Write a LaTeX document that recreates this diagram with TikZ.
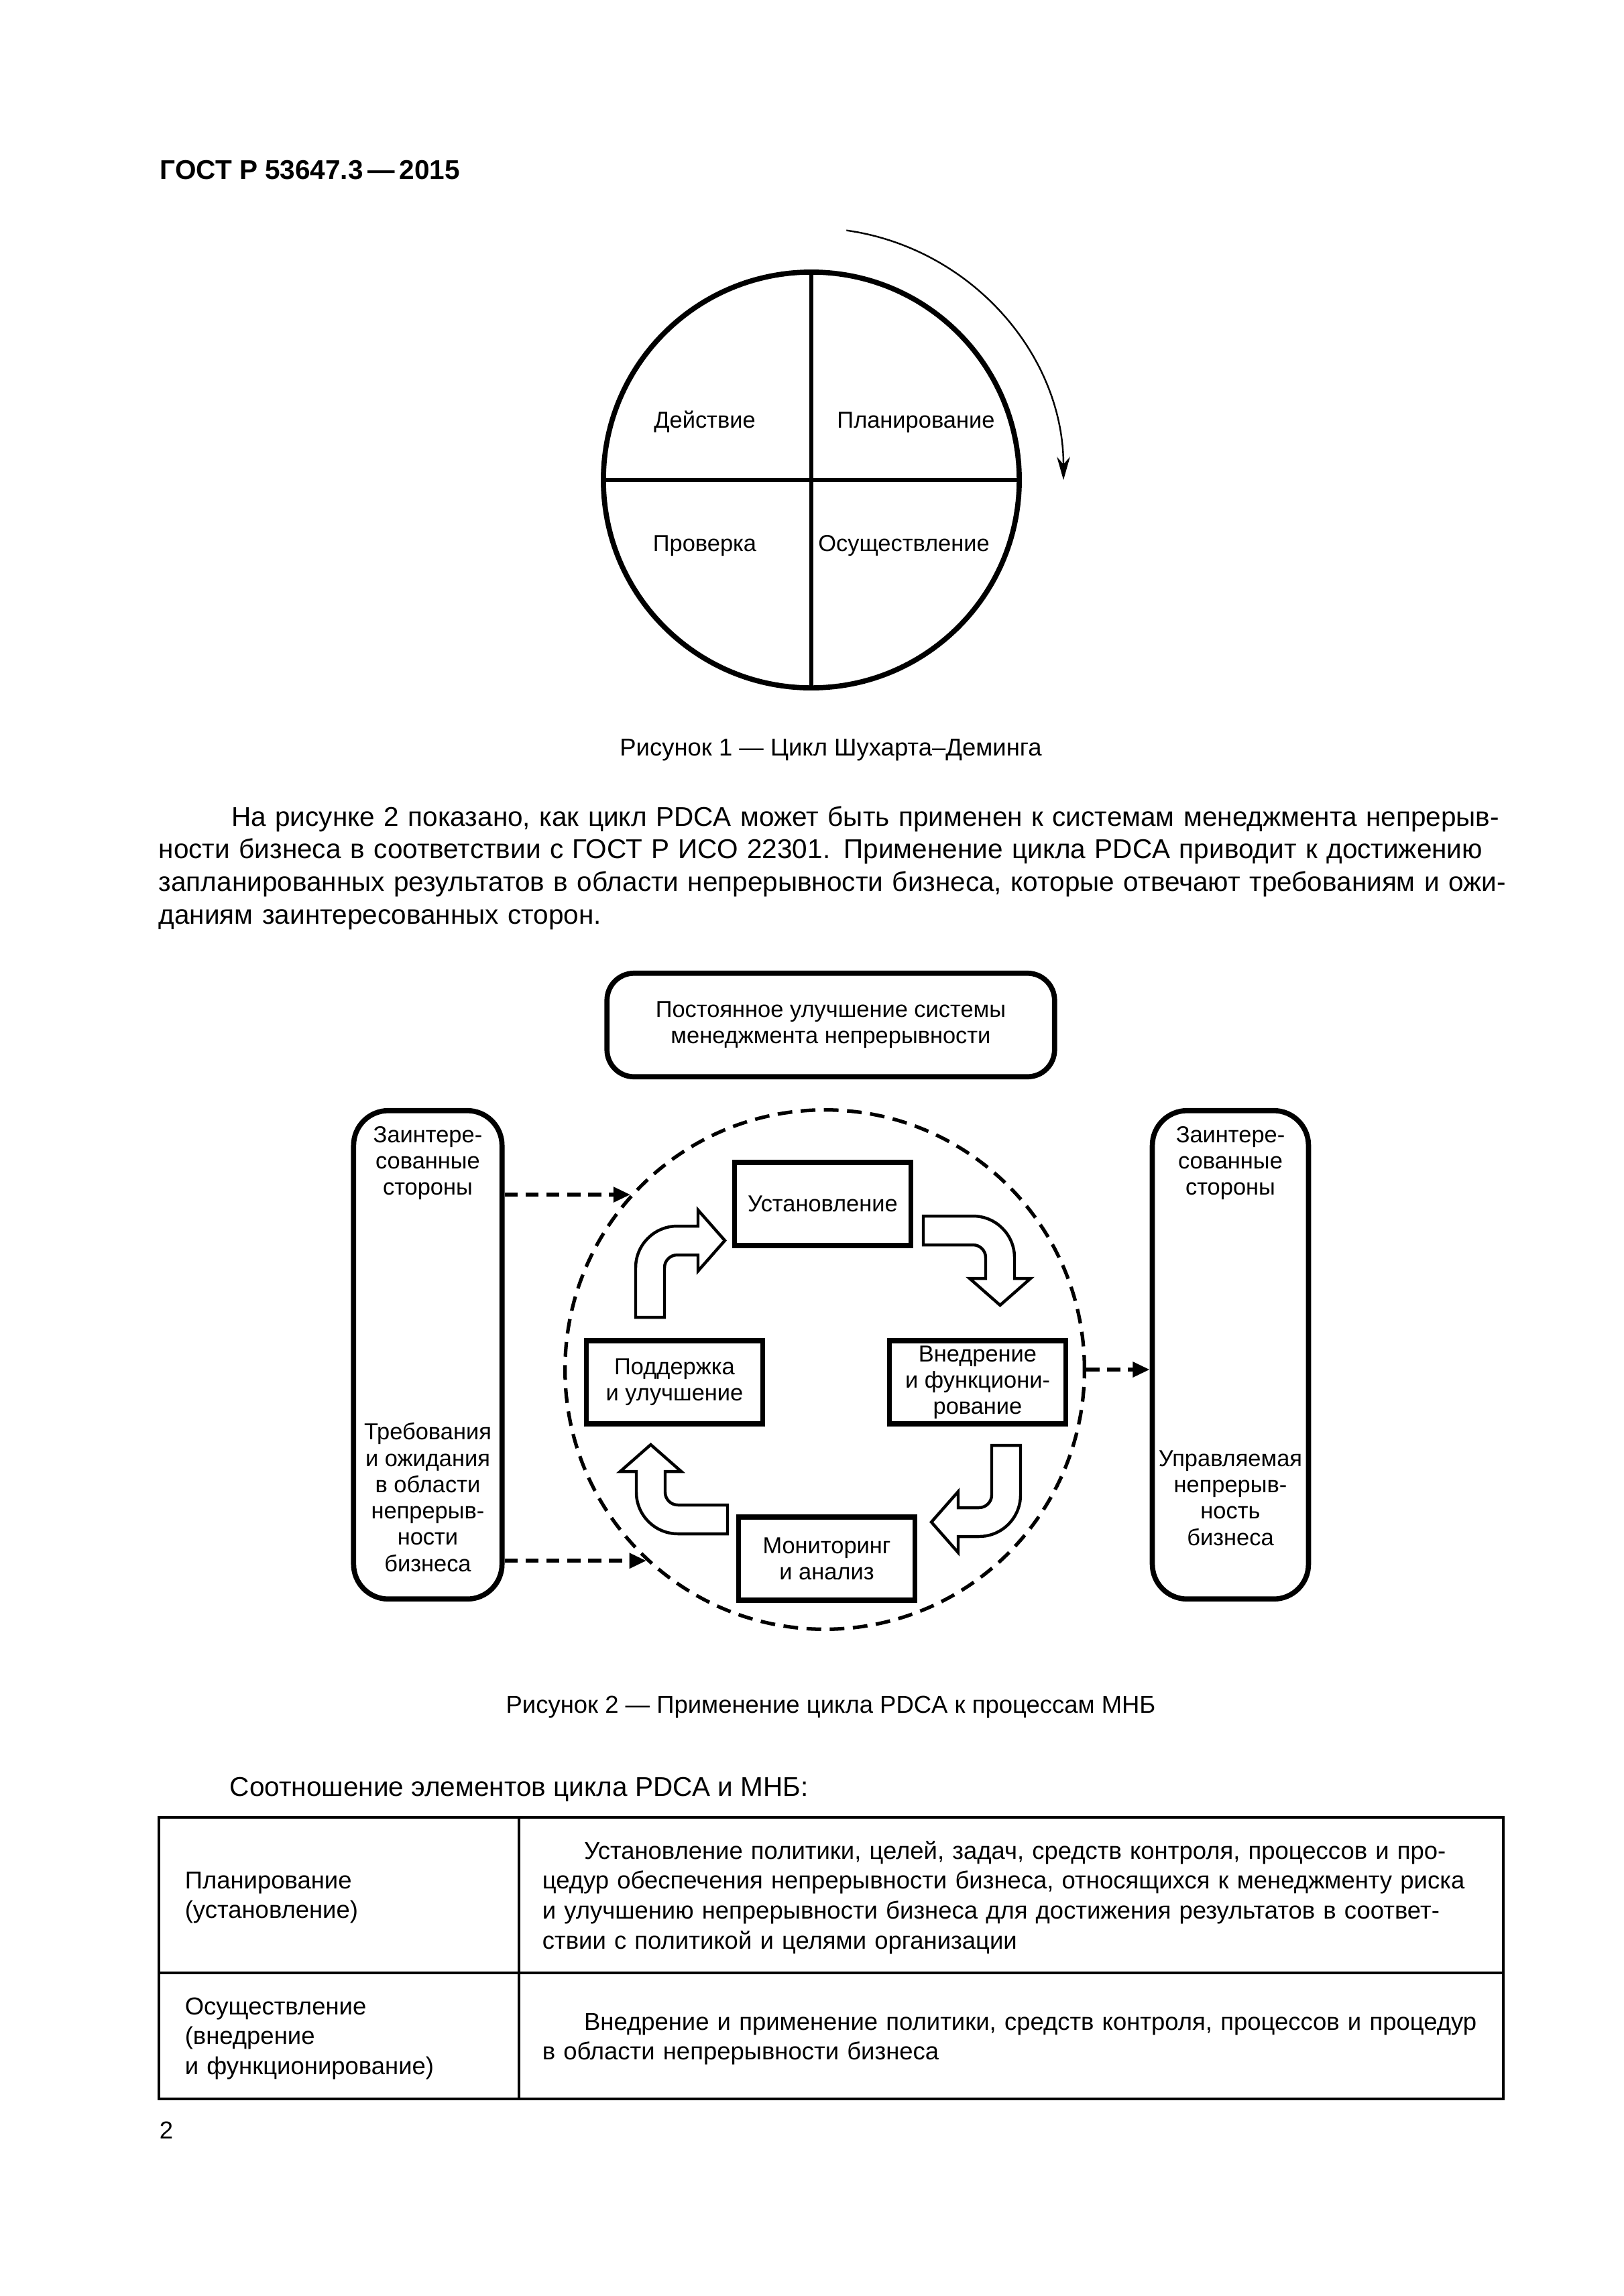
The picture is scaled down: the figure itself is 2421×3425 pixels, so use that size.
\documentclass[tikz,border=0pt]{standalone}
\usepackage{fontspec}
\setmainfont{Liberation Sans}
\usetikzlibrary{arrows.meta,positioning}

% one justified line of a fixed width
\newcommand{\jl}[1]{\makebox[\linewidth][s]{#1}}

\begin{document}
\begin{tikzpicture}[
  x=0.08674mm, y=0.08674mm,
  figtxt/.style={font=\fontsize{8.5}{9.7}\selectfont, align=center, inner sep=0pt},
  proc/.style={draw, line width=1.9pt, minimum width=22.8mm, minimum height=10.8mm,
    figtxt},
  rbox/.style={draw, line width=1.9pt, rounded corners=4.5mm, inner sep=0pt},
  capt/.style={font=\fontsize{9}{11}\selectfont, inner sep=0pt},
  body/.style={font=\fontsize{10}{12.06}\selectfont, inner sep=0pt, align=left},
  tab/.style={font=\fontsize{9}{11.07}\selectfont, inner sep=0pt, align=left},
  flow/.style={-{Triangle[length=2.2mm,width=1.9mm]}, line width=1.5pt,
    dash pattern=on 1.7mm off 1mm},
  blockline/.style={line width=1.1pt, fill=white},
  bendarrow/.pic={
    \draw[blockline] (0,0) -- (0,74) arc[start angle=180, end angle=90, radius=62]
      -- (93,136) -- (93,160) -- (133,114.5) -- (93,69) -- (93,93) -- (62,93)
      arc[start angle=90, end angle=180, radius=19] -- (43,0) -- cycle;
  }
]
\useasboundingbox (0,0) rectangle (2421,-3425);

\node[anchor=base west, inner sep=0pt, font=\bfseries\fontsize{10}{12}\selectfont]
  (head) at (238,-267) {ГОСТ Р 53647.3\,—\,2015};

% figure 1
\node[draw, circle, line width=1.9pt, minimum size=53.8mm, inner sep=0pt] (pdca) at (1210,-716) {};
\draw[line width=1.4pt] (pdca.north) -- (pdca.south);
\draw[line width=1.6pt] (pdca.west) -- (pdca.east);
\draw[line width=0.6pt, -{Stealth[length=3mm,width=1.7mm]}]
  ([shift={(82:376)}]pdca.center) arc[start angle=82, end angle=0, radius=376];
\node[figtxt, anchor=base] (act) at (1051,-638) {Действие};
\node[figtxt, anchor=base] (plan) at (1366,-638) {Планирование};
\node[figtxt, anchor=base] (check) at (1051,-822) {Проверка};
\node[figtxt, anchor=base] (do) at (1348,-822) {Осуществление};
\node[capt, anchor=base] (cap1) at (1239,-1127) {Рисунок 1 — Цикл Шухарта–Деминга};

\node[body, anchor=base west, text width=174.3mm] (para) at (236,-1232) {%
\jl{\hspace{9.4mm}На рисунке 2 показано, как цикл PDCA может быть применен к системам менеджмента непрерыв-}\\
\jl{ности бизнеса в соответствии с ГОСТ Р ИСО 22301. Применение цикла PDCA приводит к достижению}\\
\jl{запланированных результатов в области непрерывности бизнеса, которые отвечают требованиям и ожи-}\\
даниям заинтересованных сторон.};

% figure 2
\node[rbox, rounded corners=3.5mm, minimum width=57.9mm, minimum height=13.4mm, figtxt]
  (improve) at (1239,-1529) {Постоянное улучшение системы\\менеджмента непрерывности};
\node[draw, circle, line width=1.3pt, dash pattern=on 1.9mm off 1.1mm,
  minimum size=67.2mm, inner sep=0pt] (cycle) at (1230,-2043) {};
\node[proc] (estab) at (1227,-1796) {Установление};
\node[proc] (support) at (1006,-2062) {Поддержка\\и улучшение};
\node[proc] (impl) at (1458,-2062) {Внедрение\\и функциони-\\рование};
\node[proc] (monitor) at (1233,-2325) {Мониторинг\\и анализ};

\pic at (948,-1965) {bendarrow};
\pic[rotate=-90] at (1377,-1814) {bendarrow};
\pic[rotate=180] at (1522,-2156) {bendarrow};
\pic[rotate=90] at (1085,-2288) {bendarrow};

\node[rbox, minimum width=19.2mm, minimum height=63.2mm] (lstake) at (638,-2021) {};
\node[rbox, minimum width=20.2mm, minimum height=63.2mm] (rstake) at (1835,-2021) {};
\node[figtxt, below=2.3mm of lstake.north] (ltop) {Заинтере-\\сованные\\стороны};
\node[figtxt, above=3.8mm of lstake.south] (lbot)
  {Требования\\и ожидания\\в области\\непрерыв-\\ности\\бизнеса};
\node[figtxt, below=2.3mm of rstake.north] (rtop) {Заинтере-\\сованные\\стороны};
\node[figtxt, above=7.2mm of rstake.south] (rbot)
  {Управляемая\\непрерыв-\\ность\\бизнеса};

\draw[flow] (lstake.east |- cycle.138) -- (cycle.138);
\draw[flow] (lstake.east |- cycle.227) -- (cycle.227);
\draw[flow] (cycle.east) -- (rstake.west |- cycle.east);

\node[capt, anchor=base] (cap2) at (1239,-2555) {Рисунок 2 — Применение цикла PDCA к процессам МНБ};

% table
\node[body, anchor=base west] (lead) at (342,-2679) {Соотношение элементов цикла PDCA и МНБ:};
\draw[line width=0.9pt] (237,-2711) rectangle (2242,-3131);
\draw[line width=0.9pt] (237,-2943) -- (2242,-2943);
\draw[line width=0.9pt] (774,-2711) -- (774,-3131);
\node[tab, anchor=base west, text width=40mm] (plancell) at (275,-2817)
  {Планирование\\(установление)};
\node[tab, anchor=base west, text width=40mm] (docell) at (275,-3005)
  {Осуществление\\(внедрение\\и функционирование)};
\node[tab, anchor=base west, text width=121.2mm] (plantxt) at (808,-2773) {%
\jl{\hspace{5.4mm}Установление политики, целей, задач, средств контроля, процессов и про-}\\
\jl{цедур обеспечения непрерывности бизнеса, относящихся к менеджменту риска}\\
\jl{и улучшению непрерывности бизнеса для достижения результатов в соответ-}\\
ствии с политикой и целями организации};
\node[tab, anchor=base west, text width=121.2mm] (dotxt) at (808,-3028) {%
\jl{\hspace{5.4mm}Внедрение и применение политики, средств контроля, процессов и процедур}\\
в области непрерывности бизнеса};

\node[tab, anchor=base west] (pnum) at (237,-3190) {2};
\end{tikzpicture}
\end{document}
